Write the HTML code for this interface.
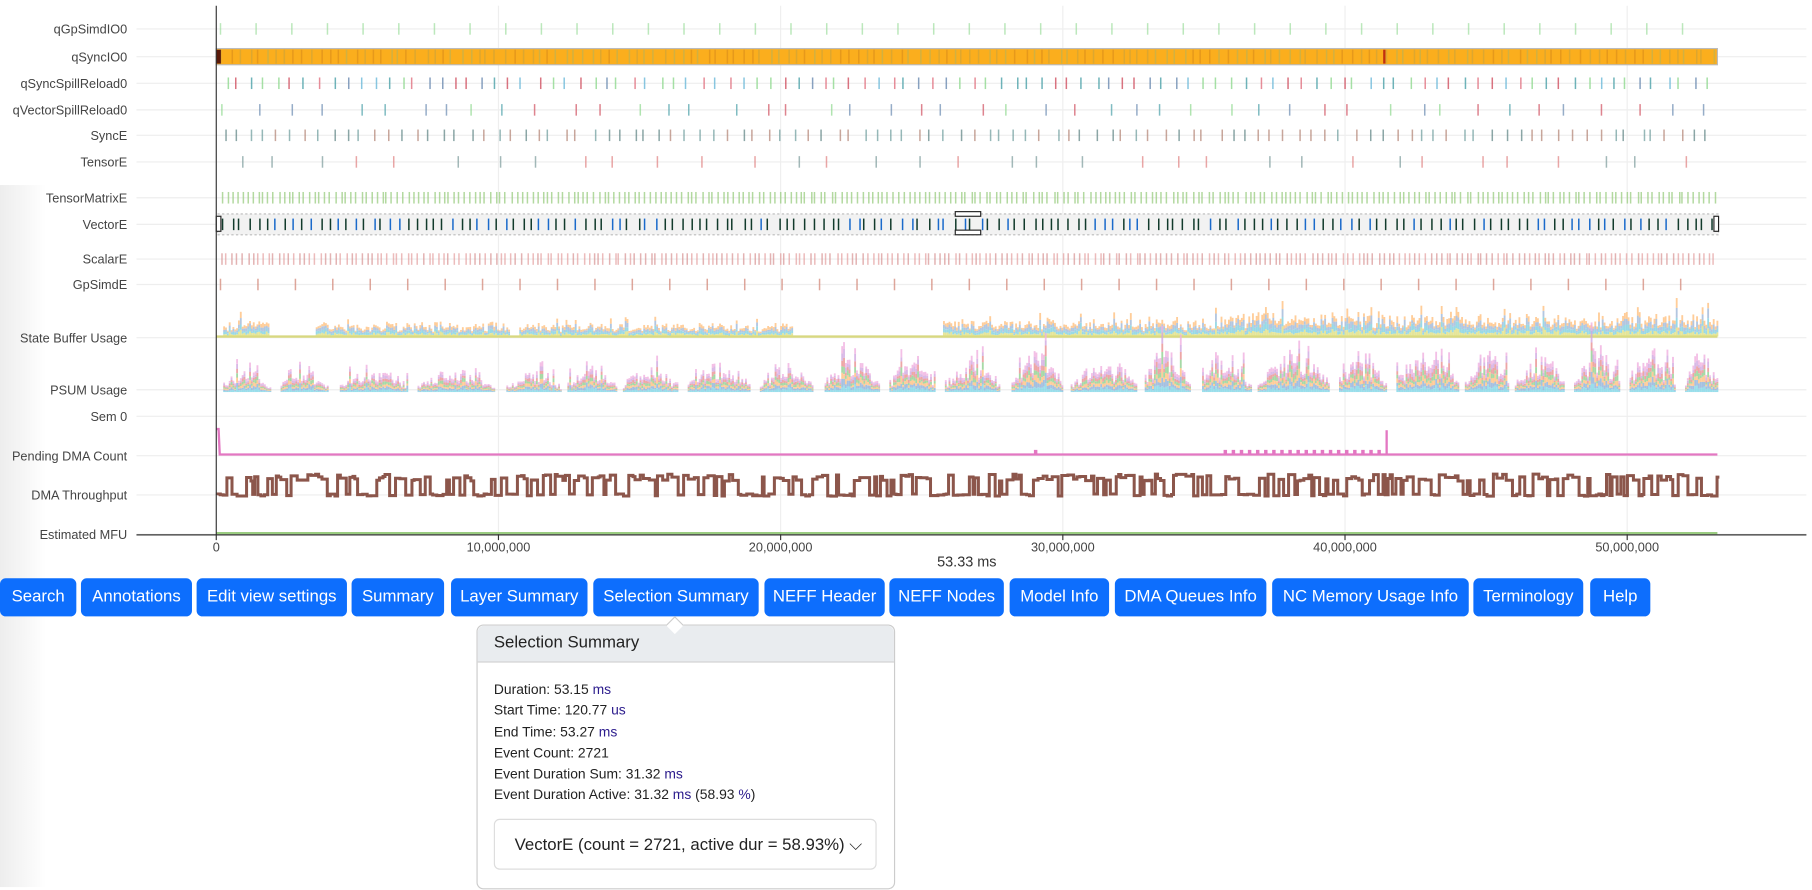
<!DOCTYPE html>
<html><head><meta charset="utf-8">
<style>
html,body{margin:0;padding:0;background:#fff;overflow:hidden;width:1812px;height:890px;}
#w{position:absolute;left:0;top:0;width:1562px;height:767px;transform:scale(1.1565);transform-origin:0 0;font-family:"Liberation Sans",sans-serif;}
#shade{position:absolute;left:0;top:160px;width:40px;height:607px;background:linear-gradient(to right,rgba(0,0,0,0.07),rgba(0,0,0,0));}
.btn{position:absolute;top:500px;height:33px;background:#0d6efd;color:#fff;border-radius:5px;font-size:14.5px;line-height:33px;text-align:center;}
#pop{position:absolute;left:412px;top:540px;width:360px;height:227px;border:1px solid #ccc;border-radius:6px;background:#fff;}
#pop .h{height:31px;background:#e9ecef;border-bottom:1px solid #ccc;border-radius:6px 6px 0 0;font-size:14.5px;line-height:31px;padding-left:14px;color:#222;}
#pop .l{position:absolute;left:14px;font-size:12px;color:#222;}
#pop .l b{font-weight:normal;color:#2a1a8c;}
#dd{position:absolute;left:14px;top:167px;width:331px;height:44px;border:1px solid #ddd;border-radius:5px;font-size:14.5px;line-height:44px;padding-left:17px;color:#222;box-sizing:border-box;}
#arrow{position:absolute;left:578px;top:535px;width:10px;height:10px;background:#fff;border-left:1px solid #ccc;border-top:1px solid #ccc;transform:rotate(45deg);}
</style></head><body>
<div id="w">
<div id="shade"></div>
<svg id="s" width="1562" height="500" style="position:absolute;left:0;top:0" font-family="Liberation Sans, sans-serif"></svg>
<div class="btn" style="left:0;width:66px">Search</div>
<div class="btn" style="left:70px;width:96px">Annotations</div>
<div class="btn" style="left:170px;width:130px">Edit view settings</div>
<div class="btn" style="left:304px;width:80px">Summary</div>
<div class="btn" style="left:390px;width:118px">Layer Summary</div>
<div class="btn" style="left:513px;width:143px">Selection Summary</div>
<div class="btn" style="left:661px;width:104px">NEFF Header</div>
<div class="btn" style="left:769px;width:99px">NEFF Nodes</div>
<div class="btn" style="left:873px;width:86px">Model Info</div>
<div class="btn" style="left:964px;width:131px">DMA Queues Info</div>
<div class="btn" style="left:1100px;width:170px">NC Memory Usage Info</div>
<div class="btn" style="left:1274px;width:95px">Terminology</div>
<div class="btn" style="left:1375px;width:52px">Help</div>
<div id="pop">
<div class="h">Selection Summary</div>
<div class="l" style="top:48px">Duration: 53.15 <b>ms</b></div>
<div class="l" style="top:66px">Start Time: 120.77 <b>us</b></div>
<div class="l" style="top:85px">End Time: 53.27 <b>ms</b></div>
<div class="l" style="top:103px">Event Count: 2721</div>
<div class="l" style="top:121px">Event Duration Sum: 31.32 <b>ms</b></div>
<div class="l" style="top:139px">Event Duration Active: 31.32 <b>ms</b> (58.93 <b>%</b>)</div>
<div id="dd">VectorE (count = 2721, active dur = 58.93%) ⌵</div>
</div>
<div id="arrow"></div>
</div>
<script>
var s=document.getElementById('s'),h='';
var seed=7;function r(){seed=(seed*16807)%2147483647;return seed/2147483647;}
var X0=187,X1=1485;
var rows=[['qGpSimdIO0',25],['qSyncIO0',49],['qSyncSpillReload0',72],['qVectorSpillReload0',95],['SyncE',117],['TensorE',140],['TensorMatrixE',171],['VectorE',194],['ScalarE',224],['GpSimdE',246],['State Buffer Usage',292],['PSUM Usage',337],['Sem 0',360],['Pending DMA Count',394],['DMA Throughput',428],['Estimated MFU',462]];
[431,675,919,1163,1407].forEach(function(x){h+='<line x1="'+x+'" y1="5" x2="'+x+'" y2="462" stroke="#eee"/>';});
rows.forEach(function(rw){h+='<line x1="118" y1="'+rw[1]+'" x2="1562" y2="'+rw[1]+'" stroke="#eee"/>';h+='<text x="110" y="'+(rw[1]+4)+'" font-size="11" fill="#444" text-anchor="end">'+rw[0]+'</text>';});
function ticks(y,n,cols,op,hh,jit){for(var i=0;i<n;i++){var x=X0+3+(X1-X0-3)*(i+(jit?r()*0.6:0))/n;var c=cols[Math.floor(r()*cols.length)];h+='<rect x="'+x.toFixed(1)+'" y="'+(y-hh/2)+'" width="1.3" height="'+hh+'" fill="'+c+'" opacity="'+op+'"/>';}}
ticks(25,42,['#8fd88f'],0.6,10,0);
h+='<rect x="187" y="42" width="1298" height="14" fill="#fbae1d" stroke="#bbb"/>';
ticks(49,170,['#c9a23c','#d98b1a','#b5b35a'],0.6,12,1);
h+='<rect x="1196" y="43" width="2" height="12" fill="#c03010"/><rect x="187" y="43" width="4" height="12" fill="#5a1a0a"/>';
ticks(72,110,['#d05060','#8fd88f','#6a8ab0','#4aa0a8','#e07080','#6ab8d8'],0.8,10,1);
ticks(95,48,['#d05060','#8fd88f','#6a8ab0','#4aa0a8'],0.7,10,1);
ticks(117,110,['#6a9a9a','#b08070','#5a8080'],0.7,10,1);
ticks(140,35,['#7a9a9a','#e08080'],0.7,10,1);
ticks(171,290,['#9acc80'],0.75,10,1);
h+='<rect x="188" y="185" width="1298" height="18" fill="#f2f2f2" stroke="#bbb" stroke-dasharray="2,2"/>';
ticks(194,170,['#123b2c','#123b2c','#123b2c','#1a6acb'],1,10,1);
h+='<rect x="187" y="187" width="4" height="13" fill="#fff" stroke="#222"/><rect x="1482" y="187" width="4" height="13" fill="#fff" stroke="#222"/>';
h+='<rect x="826" y="183" width="22" height="4" fill="#fff" stroke="#222"/><rect x="826" y="199" width="22" height="4" fill="#fff" stroke="#222"/>';
ticks(224,290,['#e09090','#d08080'],0.6,10,1);
ticks(246,40,['#d08070'],0.7,10,0);
function area(base,segs,cols,burst){var x=X0+6;while(x<X1){var w=1.6;var sg=null;segs.forEach(function(q){if(x>=q[0]&&x<q[1])sg=q;});if(sg){var t=(x-sg[0])/(sg[1]-sg[0]);var env=burst?(Math.sin(Math.PI*t)*0.7+0.3):1;var v=sg[2]*env*(0.4+0.6*r())+(r()<0.08?sg[2]*0.5:0);var acc=0;for(var k=0;k<cols.length;k++){var hh=v/cols.length*(0.6+0.8*r());h+='<rect x="'+x.toFixed(1)+'" y="'+(base-acc-hh).toFixed(1)+'" width="'+w+'" height="'+hh.toFixed(1)+'" fill="'+cols[k]+'" opacity="0.8"/>';acc+=hh;}}x+=w;}}
h+='<line x1="187" y1="291" x2="1485" y2="291" stroke="#d8d880" stroke-width="2"/>';
area(291,[[187,232,14],[272,440,11],[448,685,11],[815,1055,14],[1055,1485,19]],['#dede80','#7fd0e0','#a0b8d8','#ffc080'],false);
var ps=[],x=191,ht;while(x<1485){var w=38+r()*30;var t=(x-187)/1300;ht=t<0.4?18+r()*10:26+r()*16;ps.push([x,Math.min(x+w,1485),ht]);x+=w+4+r()*6;}
area(339,ps,['#7fd6e6','#8fb0d8','#ffbf80','#90d090','#e89090','#d0a8e0','#f0b0e0'],true);
h+='<path d="M187,371 L189,371 L190,393 L1485,393" stroke="#e377c2" stroke-width="2" fill="none"/>';
h+='<rect x="1198" y="372" width="2" height="21" fill="#e377c2"/><rect x="894" y="389" width="3" height="4" fill="#e377c2"/>';
for(var xx=1058;xx<1192;xx+=7)h+='<rect x="'+xx+'" y="389" width="3" height="4" fill="#e377c2"/>';
var d='M188,428',y;x=188;while(x<X1){y=(r()<0.55?410+r()*6:427+r()*2);d+=' L'+x.toFixed(1)+','+y.toFixed(1);x+=1.5+r()*4;d+=' L'+x.toFixed(1)+','+y.toFixed(1);}
h+='<path d="'+d+'" stroke="#8c564b" stroke-width="2.6" fill="none"/>';
h+='<line x1="187" y1="461" x2="1485" y2="461" stroke="#9acc80" stroke-width="2"/>';
h+='<line x1="187" y1="5" x2="187" y2="463" stroke="#333"/><line x1="118" y1="462.5" x2="1562" y2="462.5" stroke="#333"/>';
[[187,'0'],[431,'10,000,000'],[675,'20,000,000'],[919,'30,000,000'],[1163,'40,000,000'],[1407,'50,000,000']].forEach(function(t){h+='<line x1="'+t[0]+'" y1="462" x2="'+t[0]+'" y2="467" stroke="#333"/><text x="'+t[0]+'" y="477" font-size="11" fill="#444" text-anchor="middle">'+t[1]+'</text>';});
h+='<text x="836" y="490" font-size="12.5" fill="#333" text-anchor="middle">53.33 ms</text>';
s.innerHTML=h;
</script>
</body></html>
